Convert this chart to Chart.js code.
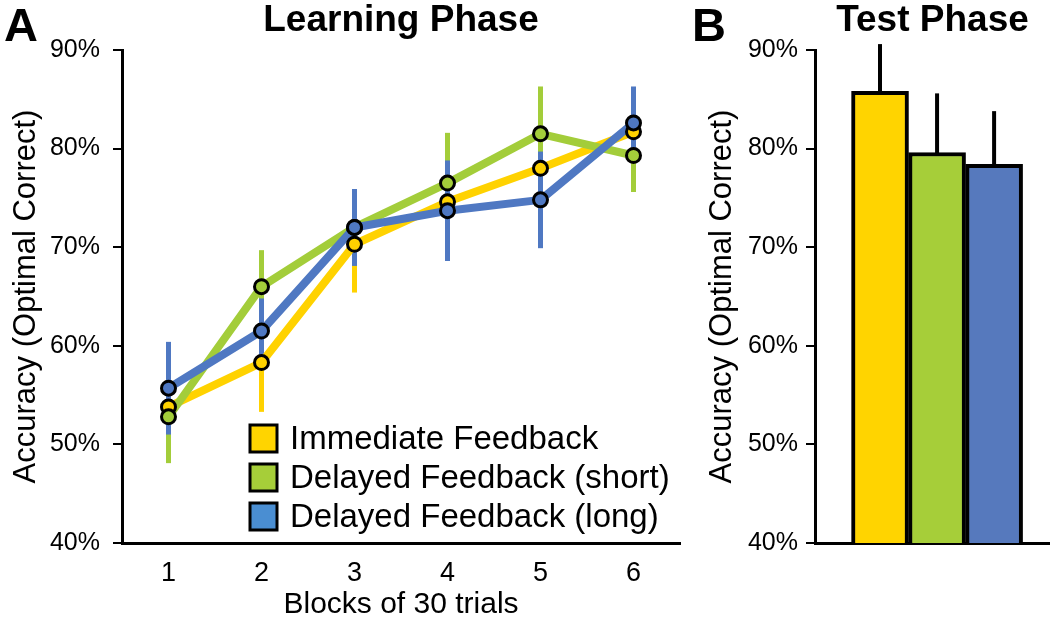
<!DOCTYPE html>
<html lang="en">
<head>
    <meta charset="UTF-8">
    <title>Learning and Test Phase Accuracy</title>
    <style>
        body {
            margin: 0;
            background-color: #fff;
            font-family: "Liberation Sans", Arial, sans-serif;
        }
        .panel {
            position: absolute;
            top: 0;
        }
        #panelA { left: 0; }
        #panelB { left: 690px; }
    </style>
    <script src="https://cdn.jsdelivr.net/npm/chart.js"></script>
</head>
<body>
    <div class="panel" id="panelA"><canvas id="learningChart" width="690" height="623"></canvas></div>
    <div class="panel" id="panelB"><canvas id="testChart" width="360" height="623"></canvas></div>

    <script>
        // Learning phase: mean accuracy (%) and error per block of 30 trials
        const blocks = [1, 2, 3, 4, 5, 6];
        const immediateMean = [53.8, 58.3, 70.3, 74.6, 78.0, 81.7];
        const immediateErr = [4.0, 5.0, 4.9, 4.0, 4.0, 4.0];
        const shortMean = [52.8, 66.0, 72.0, 76.5, 81.5, 79.3];
        const shortErr = [4.7, 3.7, 3.5, 5.1, 4.8, 3.7];
        const longMean = [55.7, 61.5, 72.0, 73.7, 74.8, 82.6];
        const longErr = [4.7, 3.3, 3.9, 5.1, 4.9, 3.7];

        // Test phase
        const groupLabels = ['Immediate Feedback', 'Delayed Feedback (short)', 'Delayed Feedback (long)'];
        const testMean = [85.8, 79.6, 78.4];
        const testErr = [4.8, 6.0, 5.4];

        const yTicks = [40, 50, 60, 70, 80, 90];

        const lineColors = ['#FFD200', '#A3CD3A', '#4F78C2'];
        const barColors = ['#FFD400', '#A6CE39', '#5679BD'];
        const legendColors = ['#FFD400', '#A6CE39', '#4A8ED2'];

        Chart.defaults.font.family = '"Liberation Sans", Arial, Helvetica, sans-serif';
        Chart.defaults.color = '#000';

        const toXY = arr => arr.map((v, i) => ({ x: blocks[i], y: v }));

        // vertical error bars for the learning curves, drawn under the lines
        const lineErrorBars = {
            id: 'lineErrorBars',
            beforeDatasetsDraw(chart) {
                const { ctx, scales: { x, y } } = chart;
                const series = [
                    { mean: immediateMean, err: immediateErr, color: lineColors[0] },
                    { mean: shortMean, err: shortErr, color: lineColors[1] },
                    { mean: longMean, err: longErr, color: lineColors[2] }
                ];
                ctx.save();
                ctx.lineWidth = 5;
                ctx.lineCap = 'butt';
                series.forEach(s => {
                    ctx.strokeStyle = s.color;
                    blocks.forEach((b, i) => {
                        const px = x.getPixelForValue(b);
                        ctx.beginPath();
                        ctx.moveTo(px, y.getPixelForValue(s.mean[i] - s.err[i]));
                        ctx.lineTo(px, y.getPixelForValue(s.mean[i] + s.err[i]));
                        ctx.stroke();
                    });
                });
                ctx.restore();
            }
        };

        // upward-only error bars on the test phase bars
        const barErrorBars = {
            id: 'barErrorBars',
            afterDatasetsDraw(chart) {
                const { ctx, scales: { y } } = chart;
                const meta = chart.getDatasetMeta(0);
                ctx.save();
                ctx.strokeStyle = '#000';
                ctx.lineWidth = 4;
                meta.data.forEach((bar, i) => {
                    ctx.beginPath();
                    ctx.moveTo(bar.x, y.getPixelForValue(testMean[i]) + 2);
                    ctx.lineTo(bar.x, y.getPixelForValue(testMean[i] + testErr[i]));
                    ctx.stroke();
                });
                ctx.restore();
            }
        };

        // panel letters A / B
        const panelLetter = {
            id: 'panelLetter',
            afterDraw(chart, args, opts) {
                const ctx = chart.ctx;
                ctx.save();
                ctx.font = 'bold 47px "Liberation Sans", Arial, sans-serif';
                ctx.fillStyle = '#000';
                ctx.textBaseline = 'alphabetic';
                ctx.fillText(opts.text, opts.x, 41);
                ctx.restore();
            }
        };

        // legend boxes inside the learning phase plot
        const boxLegend = {
            id: 'boxLegend',
            afterDraw(chart) {
                const ctx = chart.ctx;
                ctx.save();
                ctx.font = '33px "Liberation Sans", Arial, sans-serif';
                ctx.textBaseline = 'middle';
                groupLabels.forEach((label, i) => {
                    const top = 425 + i * 39;
                    ctx.fillStyle = legendColors[i];
                    ctx.fillRect(250, top, 27, 27);
                    ctx.strokeStyle = '#000';
                    ctx.lineWidth = 3;
                    ctx.strokeRect(250, top, 27, 27);
                    ctx.fillStyle = '#000';
                    ctx.fillText(label, 290, top + 15);
                });
                ctx.restore();
            }
        };

        function yAxis(width, titlePad, tickPad) {
            return {
                min: 40,
                max: 90,
                afterBuildTicks: s => { s.ticks = yTicks.map(v => ({ value: v })); },
                ticks: {
                    callback: v => v + '%',
                    font: { size: 25 },
                    padding: tickPad,
                    color: '#000'
                },
                grid: {
                    drawOnChartArea: false,
                    drawTicks: true,
                    tickLength: 9,
                    color: '#000',
                    lineWidth: 2
                },
                border: { color: '#000', width: 3 },
                title: {
                    display: true,
                    text: 'Accuracy (Optimal Correct)',
                    font: { size: 31 },
                    padding: { top: titlePad, bottom: 0 }
                },
                afterFit: s => { s.width = width; }
            };
        }

        function titleOpts(text) {
            return {
                display: true,
                text: text,
                fullSize: false,
                color: '#000',
                font: { size: 37, weight: 'bold', lineHeight: 1 },
                padding: { top: 2, bottom: 11 }
            };
        }

        const learningDatasets = [
            // markers (drawn on top)
            { label: groupLabels[0], data: toXY(immediateMean), showLine: false, order: 3,
              pointRadius: 7, pointBorderWidth: 3, pointBorderColor: '#000', pointBackgroundColor: lineColors[0] },
            { label: groupLabels[1], data: toXY(shortMean), showLine: false, order: 2,
              pointRadius: 7, pointBorderWidth: 3, pointBorderColor: '#000', pointBackgroundColor: lineColors[1] },
            { label: groupLabels[2], data: toXY(longMean), showLine: false, order: 1,
              pointRadius: 7, pointBorderWidth: 3, pointBorderColor: '#000', pointBackgroundColor: lineColors[2] },
            // connecting lines
            { data: toXY(immediateMean), borderColor: lineColors[0], borderWidth: 8, pointRadius: 0, order: 6 },
            { data: toXY(shortMean), borderColor: lineColors[1], borderWidth: 8, pointRadius: 0, order: 5 },
            { data: toXY(longMean), borderColor: lineColors[2], borderWidth: 8, pointRadius: 0, order: 4 }
        ];

        new Chart(document.getElementById('learningChart'), {
            type: 'line',
            data: { datasets: learningDatasets },
            options: {
                responsive: false,
                animation: false,
                layout: { padding: { left: 0, right: 9, top: 0, bottom: 0 } },
                elements: { line: { tension: 0, borderJoinStyle: 'round' } },
                scales: {
                    x: {
                        type: 'linear',
                        min: 0.5,
                        max: 6.5,
                        afterBuildTicks: s => { s.ticks = blocks.map(v => ({ value: v })); },
                        ticks: { font: { size: 27 }, padding: 14, color: '#000' },
                        grid: { display: false, drawTicks: false },
                        border: { color: '#000', width: 3 },
                        title: {
                            display: true,
                            text: 'Blocks of 30 trials',
                            font: { size: 30 },
                            padding: { top: 0, bottom: 0 }
                        },
                        afterFit: s => { s.height = 80; }
                    },
                    y: yAxis(122, 8, 13)
                },
                plugins: {
                    legend: { display: false },
                    tooltip: { enabled: false },
                    title: titleOpts('Learning Phase'),
                    panelLetter: { text: 'A', x: 4 }
                }
            },
            plugins: [lineErrorBars, boxLegend, panelLetter]
        });

        new Chart(document.getElementById('testChart'), {
            type: 'bar',
            data: {
                datasets: [{
                    label: 'Test Phase',
                    data: testMean.map((v, i) => ({ x: i + 1, y: v })),
                    backgroundColor: barColors,
                    borderColor: '#000',
                    borderWidth: 4,
                    borderSkipped: false,
                    barThickness: 57
                }]
            },
            options: {
                responsive: false,
                animation: false,
                layout: { padding: 0 },
                scales: {
                    x: {
                        type: 'linear',
                        offset: false,
                        min: -0.14,
                        max: 3.98,
                        ticks: { display: false },
                        grid: { display: false, drawTicks: false },
                        border: { color: '#000', width: 3 },
                        afterFit: s => { s.height = 80; }
                    },
                    y: yAxis(125, 14, 8)
                },
                plugins: {
                    legend: { display: false },
                    tooltip: { enabled: false },
                    title: titleOpts('Test Phase'),
                    panelLetter: { text: 'B', x: 2 }
                }
            },
            plugins: [barErrorBars, panelLetter]
        });
    </script>
</body>
</html>
